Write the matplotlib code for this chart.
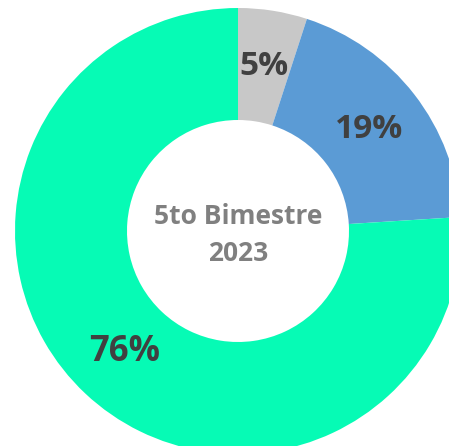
import matplotlib
matplotlib.use("Agg")
import matplotlib.pyplot as plt

# share of each category for the period
categories = ["Otros", "Parcial", "Cumplido"]
shares = [5, 19, 76]
colors = ["#C8C8C8", "#5B9BD5", "#06FBB5"]
label_sizes = [24, 24, 25]
center_title = "5to Bimestre\n2023"

plt.rcParams["font.family"] = ["Open Sans", "DejaVu Sans"]

W, H = 449, 446
fig = plt.figure(figsize=(W / 100, H / 100), dpi=100)
ax = fig.add_axes([0, 0, 1, 1])

cx, cy, r_out = 238, H - 231, 223
wedges, _, pct_texts = ax.pie(
    shares,
    colors=colors,
    startangle=90,
    counterclock=False,
    radius=r_out,
    center=(cx, cy),
    autopct=lambda p: f"{p:.0f}%",
    pctdistance=0.745,
    wedgeprops=dict(width=r_out - 111, linewidth=0),
)
for t, s in zip(pct_texts, label_sizes):
    t.set_fontsize(s)
    t.set_fontweight("bold")
    t.set_color("#404040")

ax.text(cx, cy - 4, center_title, ha="center", va="center", fontsize=19,
        fontweight="bold", color="#808080", linespacing=1.45)

ax.set_xlim(0, W)
ax.set_ylim(0, H)
ax.set_aspect("equal")
ax.axis("off")

fig.savefig("out.png", dpi=100, facecolor="white")
